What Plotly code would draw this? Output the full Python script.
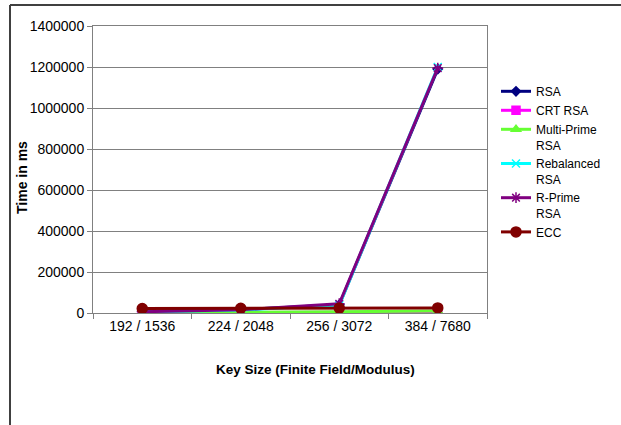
import plotly.graph_objects as go

categories = ["192 / 1536", "224 / 2048", "256 / 3072", "384 / 7680"]
rsa = [8000, 17000, 40000, 1190000]
crt_rsa = [500, 1500, 3000, 6000]
multi_prime_rsa = [1500, 3000, 6000, 10000]
rebalanced_rsa = [5000, 15000, 38000, 1200000]
r_prime_rsa = [6000, 16000, 45000, 1195000]
ecc = [22000, 23000, 24000, 25000]

series = [
    ("RSA", rsa, "#000080", "diamond", 7),
    ("CRT RSA", crt_rsa, "#FF00FF", "square", 8),
    ("Multi-Prime<br>RSA", multi_prime_rsa, "#66FF33", "triangle-up", 8),
    ("Rebalanced<br>RSA", rebalanced_rsa, "#00FFFF", "x-thin-open", 8),
    ("R-Prime<br>RSA", r_prime_rsa, "#800080", "asterisk-open", 9),
    ("ECC", ecc, "#800000", "circle", 10),
]

fig = go.Figure()
for name, vals, color, sym, size in series:
    fig.add_trace(go.Scatter(
        x=categories, y=vals, name=name, mode="lines+markers",
        line=dict(color=color, width=3),
        marker=dict(symbol=sym, size=size, color=color,
                    line=dict(color=color, width=1.5)),
    ))

L, R, T, B = 93, 134, 26, 112
W, H = 621, 425
pw, ph = W - L - R, H - T - B

def px(x):
    return (x - L) / pw

def py(y):
    return (H - B - y) / ph

fig.update_layout(
    width=W, height=H,
    margin=dict(l=L, r=R, t=T, b=B),
    paper_bgcolor="white", plot_bgcolor="white",
    font=dict(family="Liberation Sans, Arial", size=14, color="black"),
    showlegend=True,
    legend=dict(x=px(496), y=py(77), xanchor="left", yanchor="top",
                font=dict(size=12, color="black"), valign="top",
                tracegroupgap=0, itemwidth=30, bgcolor="rgba(0,0,0,0)"),
    xaxis=dict(type="category", range=[-0.5, 3.5], showline=True,
               linecolor="#808080", linewidth=1, mirror=True,
               ticks="outside", ticklen=5, tickcolor="#808080",
               tickson="boundaries", showgrid=False,
               tickfont=dict(size=14, color="black"), fixedrange=True),
    yaxis=dict(range=[0, 1400000], dtick=200000, showline=True,
               linecolor="#808080", linewidth=1, mirror=True,
               ticks="outside", ticklen=5, tickcolor="#808080",
               showgrid=True, gridcolor="#808080", gridwidth=1,
               tickformat="d", zeroline=False,
               tickfont=dict(size=14, color="black")),
    annotations=[
        dict(text="<b>Time in ms</b>", xref="paper", yref="paper",
             x=px(22), y=py(178), textangle=-90, showarrow=False,
             font=dict(size=14, color="black"), xanchor="center", yanchor="middle"),
        dict(text="<b>Key Size (Finite Field/Modulus)</b>", xref="paper", yref="paper",
             x=px(315), y=py(369), showarrow=False,
             font=dict(size=13.5, color="black"), xanchor="center", yanchor="middle"),
    ],
    shapes=[
        dict(type="line", xref="paper", yref="paper", x0=px(10), x1=px(640),
             y0=py(5), y1=py(5), line=dict(color="#404040", width=2)),
        dict(type="line", xref="paper", yref="paper", x0=px(10), x1=px(10),
             y0=py(5), y1=py(440), line=dict(color="#404040", width=2)),
    ],
)

fig.write_html("out.html")
